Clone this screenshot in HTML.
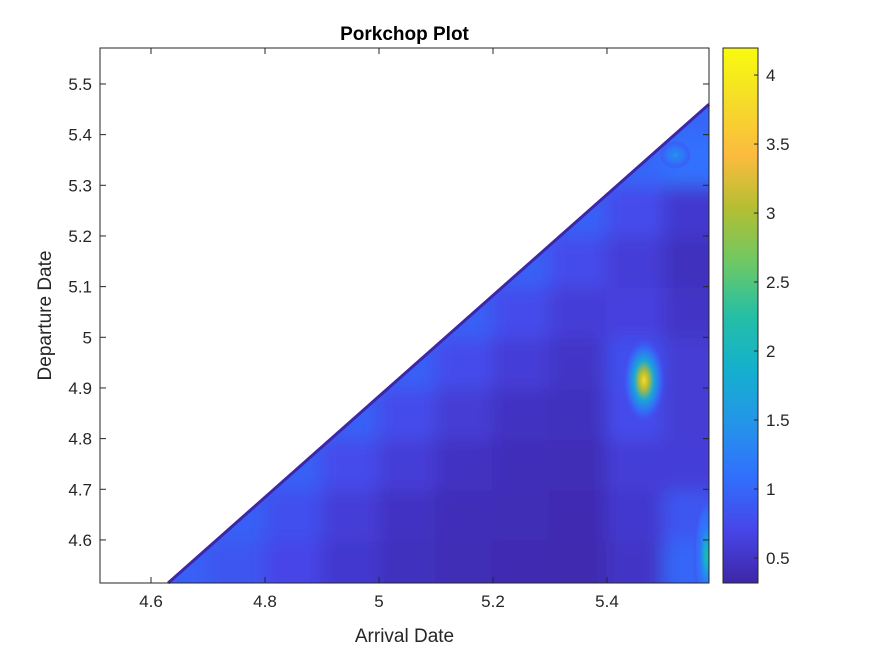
<!DOCTYPE html>
<html><head><meta charset="utf-8"><style>
body{margin:0;background:#fff;font-family:"Liberation Sans",sans-serif}
svg text{font-family:"Liberation Sans",sans-serif;fill:#262626}
</style></head><body>
<svg id="c" width="875" height="656" xmlns="http://www.w3.org/2000/svg">
<rect width="875" height="656" fill="#fff"/>
<defs>
<clipPath id="tri"><polygon id="triPoly"/></clipPath>
<filter id="bl" x="-5%" y="-5%" width="110%" height="110%"><feGaussianBlur stdDeviation="9"/></filter>
<linearGradient id="cbg" x1="0" y1="1" x2="0" y2="0"></linearGradient>
</defs>
<g id="plot"></g>
<g id="axes"></g>
</svg>
<script>
const arrivals=[4.55,4.65,4.75,4.85,4.95,5.05,5.15,5.25,5.35,5.45,5.55];
const departures=[4.55,4.65,4.75,4.85,4.95,5.05,5.15,5.25,5.35,5.45,5.55];
const values=[
[0.9,0.95,0.85,0.7,0.55,0.45,0.4,0.38,0.36,0.5,1.0],
[0.9,0.9,0.95,0.8,0.6,0.48,0.42,0.4,0.38,0.55,0.85],
[0.9,0.9,0.9,0.95,0.75,0.6,0.48,0.42,0.4,0.6,0.6],
[0.9,0.9,0.9,0.9,0.95,0.75,0.58,0.48,0.45,0.75,0.58],
[0.9,0.9,0.9,0.9,0.9,0.95,0.75,0.6,0.5,0.8,0.58],
[0.9,0.9,0.9,0.9,0.9,0.9,0.95,0.75,0.6,0.65,0.5],
[0.9,0.9,0.9,0.9,0.9,0.9,0.9,0.95,0.75,0.6,0.45],
[0.9,0.9,0.9,0.9,0.9,0.9,0.9,0.9,0.95,0.75,0.55],
[0.9,0.9,0.9,0.9,0.9,0.9,0.9,0.9,0.9,1.0,1.1],
[0.9,0.9,0.9,0.9,0.9,0.9,0.9,0.9,0.9,0.9,1.0],
[0.9,0.9,0.9,0.9,0.9,0.9,0.9,0.9,0.9,0.9,0.9]];
const peakArr=[5.465,5.52,5.575];
const peakDep=[4.915,5.36,4.57];
const peakVal=[3.8,1.6,2.2];
const xTicks=[4.6,4.8,5,5.2,5.4];
const yTicks=[4.6,4.7,4.8,4.9,5,5.1,5.2,5.3,5.4,5.5];
const cTicks=[0.5,1,1.5,2,2.5,3,3.5,4];
const validStart=[4.63,4.515];const validEnd=[5.579,5.46];

const X0=100,X1=709,Y0=48,Y1=583;
const xmin=4.5105,xmax=5.579,ymin=4.515,ymax=5.571,cmin=0.319,cmax=4.196;
const sx=v=>X0+(v-xmin)/(xmax-xmin)*(X1-X0);
const sy=v=>Y1-(v-ymin)/(ymax-ymin)*(Y1-Y0);
const CB0=723,CB1=758,sc=v=>Y1-(v-cmin)/(cmax-cmin)*(Y1-Y0);
const stops=[[62,38,168],[71,70,233],[48,112,253],[36,149,232],[20,176,205],[37,191,165],[110,200,100],[180,190,50],[252,187,62],[245,220,40],[249,251,14]];
function col(v){let t=Math.max(0,Math.min(1,(v-cmin)/(cmax-cmin)))*10;let i=Math.min(9,Math.floor(t)),f=t-i;const a=stops[i],b=stops[i+1];return `rgb(${a.map((c,k)=>Math.round(c+(b[k]-c)*f)).join(',')})`;}
const NS='http://www.w3.org/2000/svg';
function mk(t,at,p){const e=document.createElementNS(NS,t);for(const k in at)e.setAttribute(k,at[k]);(p||document.getElementById('c')).appendChild(e);return e;}
document.getElementById('triPoly').setAttribute('points',`${sx(validStart[0])},${sy(validStart[1])} ${sx(validEnd[0])},${sy(validEnd[1])} ${X1},${Y1}`);
const plot=document.getElementById('plot');
const clipG=mk('g',{'clip-path':'url(#tri)'},plot);
const blurG=mk('g',{filter:'url(#bl)'},clipG);
mk('rect',{x:X0-20,y:Y0-20,width:X1-X0+40,height:Y1-Y0+40,fill:col(0.6)},blurG);
departures.forEach((d,r)=>arrivals.forEach((a,c)=>{
 const x0=c==0?X0-30:sx(a-0.05)-1, x1=c==arrivals.length-1?X1+30:sx(a+0.05)+1;
 const y0=r==departures.length-1?Y0-30:sy(d+0.05)-1, y1=r==0?Y1+30:sy(d-0.05)+1;
 const e=mk('rect',{x:x0,y:y0,width:x1-x0,height:y1-y0,fill:col(values[r][c])},blurG);
 
 
}));
const pg=mk('g',{},clipG);
const pr=[[22,44],[16,14],[14,60]];
peakArr.forEach((a,i)=>{
 const gid='pk'+i;const gr=mk('radialGradient',{id:gid},document.querySelector('defs'));
 [[0,peakVal[i]],[0.2,peakVal[i]*0.8],[0.45,Math.max(1.2,peakVal[i]*0.45)],[0.75,1.0],[1,0.7]].forEach(([o,v])=>mk('stop',{offset:o,'stop-color':col(v),'stop-opacity':o==1?0:1},gr));
 const e=mk('ellipse',{cx:sx(a),cy:sy(peakDep[i]),rx:pr[i][0],ry:pr[i][1],fill:`url(#${gid})`},pg);
 
 
});
const dl=mk('line',{x1:sx(validStart[0]),y1:sy(validStart[1]),x2:sx(validEnd[0]),y2:sy(validEnd[1]),stroke:'#3e26a8','stroke-width':3},plot);


const ax=document.getElementById('axes');
const fr=mk('rect',{x:X0,y:Y0,width:X1-X0,height:Y1-Y0,fill:'none',stroke:'#262626','stroke-width':1},ax);


xTicks.forEach(v=>{mk('line',{x1:sx(v),x2:sx(v),y1:Y1,y2:Y1-6,stroke:'#262626'},ax);mk('line',{x1:sx(v),x2:sx(v),y1:Y0,y2:Y0+6,stroke:'#262626'},ax);
 const t=mk('text',{x:sx(v),y:Y1+24,'text-anchor':'middle','font-size':17},ax);t.textContent=v;
 });
yTicks.forEach(v=>{mk('line',{x1:X0,x2:X0+6,y1:sy(v),y2:sy(v),stroke:'#262626'},ax);mk('line',{x1:X1,x2:X1-6,y1:sy(v),y2:sy(v),stroke:'#262626'},ax);
 const t=mk('text',{x:X0-8,y:sy(v)+6,'text-anchor':'end','font-size':17},ax);t.textContent=v;
 });
const g=document.getElementById('cbg');
for(let i=0;i<=40;i++){mk('stop',{offset:i/40,'stop-color':col(cmin+(cmax-cmin)*i/40)},g);}
const cb=mk('rect',{x:CB0,y:Y0,width:CB1-CB0,height:Y1-Y0,fill:'url(#cbg)',stroke:'#262626'},ax);

cTicks.forEach(v=>{mk('line',{x1:CB1,x2:CB1-4,y1:sc(v),y2:sc(v),stroke:'#262626'},ax);
 const t=mk('text',{x:CB1+8,y:sc(v)+6,'font-size':17},ax);t.textContent=v;
 });
let t=mk('text',{x:(X0+X1)/2,y:40,'text-anchor':'middle','font-size':19,'font-weight':'bold',fill:'#000'},ax);t.textContent='Porkchop Plot';t.style.fill='#000';

t=mk('text',{x:(X0+X1)/2,y:642,'text-anchor':'middle','font-size':19},ax);t.textContent='Arrival Date';

t=mk('text',{x:0,y:0,'text-anchor':'middle','font-size':19,transform:`translate(51,${(Y0+Y1)/2}) rotate(-90)`},ax);t.textContent='Departure Date';

</script>
</body></html>
